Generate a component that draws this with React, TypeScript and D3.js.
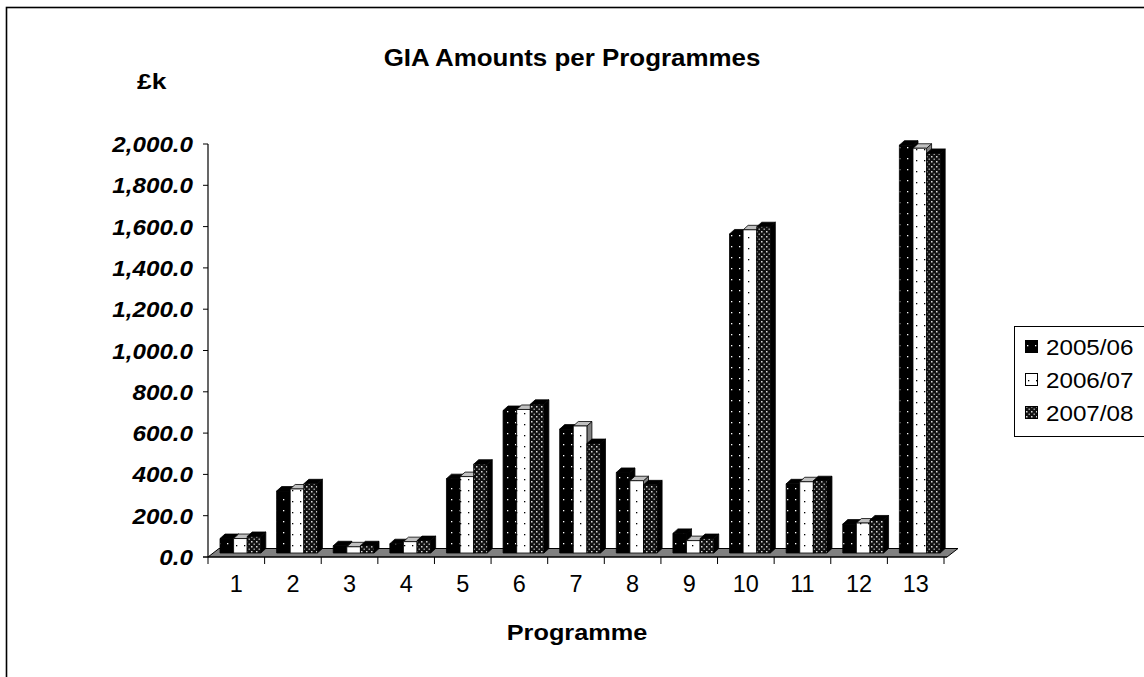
import { useEffect, useRef } from 'react';
import * as d3 from 'd3';

const categories = ['1', '2', '3', '4', '5', '6', '7', '8', '9', '10', '11', '12', '13'];
const seriesNames = ['2005/06', '2006/07', '2007/08'];
const s2005 = [70, 300, 35, 45, 360, 690, 600, 390, 95, 1545, 335, 140, 1975];
const s2006 = [70, 310, 30, 55, 370, 695, 615, 350, 60, 1565, 345, 145, 1960];
const s2007 = [80, 335, 35, 60, 430, 720, 530, 330, 70, 1580, 350, 160, 1935];
const yTicks = [0, 200, 400, 600, 800, 1000, 1200, 1400, 1600, 1800, 2000];

const FONT = 'Liberation Sans, Arial, sans-serif';

export default function App() {
  const ref = useRef<SVGSVGElement>(null);

  useEffect(() => {
    if (!ref.current) return;
    const W = 1144, H = 677;
    const svg = d3.select(ref.current).attr('width', W).attr('height', H);
    svg.selectAll('*').remove();

    // text drawn at (x, y) and stretched horizontally like the original export
    const label = (x: number, y: number, str: string, size: number, sx: number, anchor = 'start') =>
      svg.append('text').attr('transform', `translate(${x},${y}) scale(${sx},1)`)
        .attr('text-anchor', anchor).attr('font-family', FONT).attr('font-size', size).text(str);

    const defs = svg.append('defs');
    // 2005/06: black with sparse white dots
    const p0 = defs.append('pattern').attr('id', 'p0').attr('patternUnits', 'userSpaceOnUse')
      .attr('width', 8).attr('height', 11);
    p0.append('rect').attr('width', 8).attr('height', 11).attr('fill', '#000');
    p0.append('rect').attr('x', 3).attr('y', 4).attr('width', 1.3).attr('height', 1.3).attr('fill', '#fff');
    // 2006/07: white with sparse black dots
    const p1 = defs.append('pattern').attr('id', 'p1').attr('patternUnits', 'userSpaceOnUse')
      .attr('width', 8).attr('height', 11);
    p1.append('rect').attr('width', 8).attr('height', 11).attr('fill', '#fff');
    p1.append('rect').attr('x', 4).attr('y', 6).attr('width', 1.3).attr('height', 1.3).attr('fill', '#000');
    // 2007/08: black with dense white dots
    const p2 = defs.append('pattern').attr('id', 'p2').attr('patternUnits', 'userSpaceOnUse')
      .attr('width', 5).attr('height', 5);
    p2.append('rect').attr('width', 5).attr('height', 5).attr('fill', '#111');
    p2.append('rect').attr('x', 1).attr('y', 1).attr('width', 1.5).attr('height', 1.5).attr('fill', '#ddd');
    p2.append('rect').attr('x', 3.5).attr('y', 3.5).attr('width', 1.5).attr('height', 1.5).attr('fill', '#999');

    const fills = ['url(#p0)', 'url(#p1)', 'url(#p2)'];
    const sideFills = ['#000', '#808080', '#000'];
    const topFills = ['#000', '#c0c0c0', '#000'];

    svg.append('rect').attr('width', W).attr('height', H).attr('fill', '#fff');
    // outer chart frame
    svg.append('rect').attr('x', 6.5).attr('y', 7.5).attr('width', W + 20).attr('height', H + 20)
      .attr('fill', 'none').attr('stroke', '#000').attr('stroke-width', 1.6);

    label(572, 66, 'GIA Amounts per Programmes', 24, 1.08, 'middle').attr('font-weight', 'bold');
    label(137, 89, '£k', 22, 1.2).attr('font-weight', 'bold');

    const x0 = 208, x1 = 944, y0 = 557;
    const x = d3.scaleBand<string>().domain(categories).range([x0, x1]).padding(0);
    const y = d3.scaleLinear().domain([0, 2000]).range([y0, 144]);
    const sub = d3.scaleBand<string>().domain(seriesNames).range([12, 12 + 3 * 13.6]).padding(0);
    const fdx = 11, fdy = -8.5; // floor depth
    const bdx = 5, bdy = -4.5;  // bar depth
    const shiftY = -4;          // bars sit mid floor

    // floor
    svg.append('path')
      .attr('d', `M${x0},${y0}L${x1 + 3},${y0}L${x1 + 3 + fdx},${y0 + fdy}L${x0 + fdx},${y0 + fdy}Z`)
      .attr('fill', '#808080').attr('stroke', '#000').attr('stroke-width', 1);

    // y axis
    svg.append('line').attr('x1', x0).attr('x2', x0).attr('y1', y(2000)).attr('y2', y0)
      .attr('stroke', '#000').attr('stroke-width', 1.2);
    yTicks.forEach(t => {
      svg.append('line').attr('x1', x0 - 5).attr('x2', x0).attr('y1', y(t)).attr('y2', y(t))
        .attr('stroke', '#000');
      label(193, y(t) + 8, d3.format(',.1f')(t), 22, 1.1, 'end')
        .attr('font-weight', 'bold').attr('font-style', 'italic');
    });

    // x axis
    svg.append('line').attr('x1', x0 - 5).attr('x2', x1 + 3).attr('y1', y0).attr('y2', y0)
      .attr('stroke', '#000').attr('stroke-width', 1.2);
    categories.forEach(c => {
      const xs = x(c)!;
      svg.append('line').attr('x1', xs).attr('x2', xs).attr('y1', y0).attr('y2', y0 + 7).attr('stroke', '#000');
      label(xs + x.bandwidth() / 2, 592, c, 23, 1.02, 'middle');
    });
    svg.append('line').attr('x1', x1).attr('x2', x1).attr('y1', y0).attr('y2', y0 + 7).attr('stroke', '#000');
    label(577, 640, 'Programme', 22, 1.15, 'middle').attr('font-weight', 'bold');

    // bars
    const series = [s2005, s2006, s2007];
    const bw = sub.bandwidth();
    categories.forEach((c, i) => {
      series.forEach((vals, j) => {
        const left = x(c)! + sub(seriesNames[j])!;
        const right = left + bw;
        const top = y(vals[i]) + shiftY;
        const base = y0 + shiftY;
        const g = svg.append('g').attr('stroke', '#000').attr('stroke-width', 0.8)
          .attr('stroke-linejoin', 'round');
        g.append('path')
          .attr('d', `M${right},${base}L${right + bdx},${base + bdy}L${right + bdx},${top + bdy}L${right},${top}Z`)
          .attr('fill', sideFills[j]);
        g.append('path')
          .attr('d', `M${left},${top}L${left + bdx},${top + bdy}L${right + bdx},${top + bdy}L${right},${top}Z`)
          .attr('fill', topFills[j]);
        g.append('rect').attr('x', left).attr('y', top).attr('width', bw).attr('height', base - top)
          .attr('fill', fills[j]);
      });
    });

    // legend
    svg.append('rect').attr('x', 1014.5).attr('y', 326.5).attr('width', 150).attr('height', 110)
      .attr('fill', '#fff').attr('stroke', '#000').attr('stroke-width', 1);
    seriesNames.forEach((s, j) => {
      const cy = 347 + j * 33;
      svg.append('rect').attr('x', 1025.5).attr('y', cy - 6.5).attr('width', 12).attr('height', 12)
        .attr('fill', fills[j]).attr('stroke', '#000').attr('stroke-width', 1);
      label(1046, cy + 8, s, 22, 1.1);
    });
  }, []);

  return <svg ref={ref} style={{ position: 'absolute', left: 0, top: 0 }} />;
}
